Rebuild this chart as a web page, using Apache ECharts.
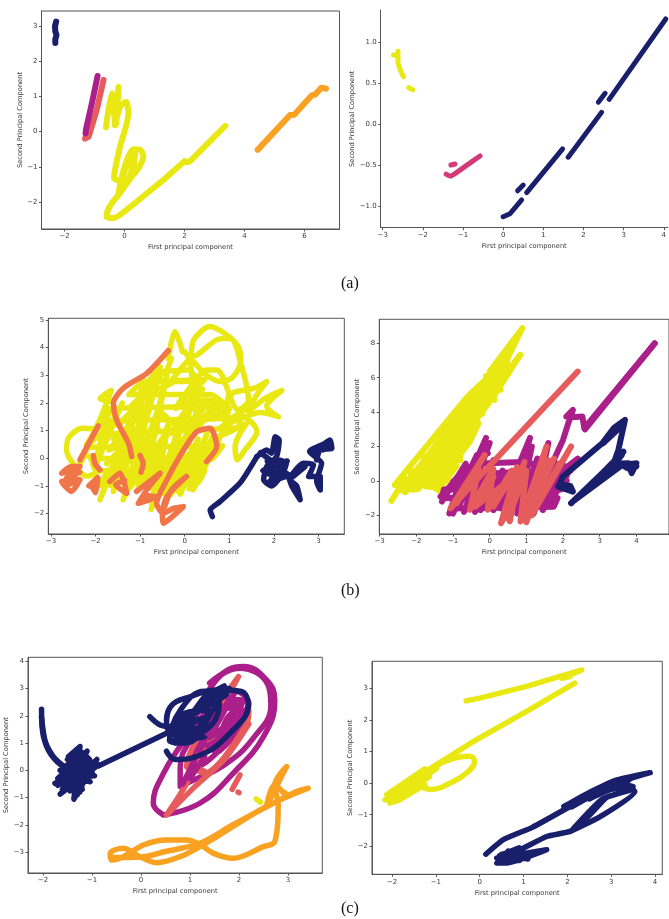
<!DOCTYPE html>
<html><head><meta charset="utf-8">
<style>html,body{margin:0;padding:0;background:#fff}#c{width:669px;height:919px}</style>
<script src="https://cdn.jsdelivr.net/npm/echarts@6/dist/echarts.min.js"></script>
</head><body><div id="c"></div>
<script>
const NAVY='#1a1f6b',MAGENTA='#ab1f8b',SALMON='#e65c5c',CORAL='#f07548',ORANGE='#f9a120',YELLOW='#e9e813',PINK='#d23b78';

// Panel (a) left
const a1Navy=[[[-2.28,3.13],[-2.32,3.0],[-2.31,2.85],[-2.27,2.75],[-2.31,2.62],[-2.31,2.52]]];
const a1Salmon=[[[-0.7,1.47],[-0.93,0.61],[-1.2,-0.15],[-1.32,-0.2],[-1.27,-0.1]]];
const a1Magenta=[[[-0.9,1.58],[-1.09,0.8],[-1.28,0.09],[-1.3,-0.05]]];
const a1YellowTail=[[[3.36,0.16],[2.18,-0.85],[2.07,-0.87],[2.0,-0.84],[1.4,-1.3],[0.74,-1.76]]];
const a1Yellow=[[[0.74,-1.76],[0.13,-2.18],[-0.37,-2.46],[-0.6,-2.42],[-0.57,-2.27],[-0.43,-2.04],[-0.2,-1.8],[0.24,-1.28],[0.46,-1.05],[0.63,-0.71],[0.52,-0.52],[0.29,-0.5],[0.13,-0.7],[-0.09,-1.28],[-0.2,-1.75],[0.02,-1.09],[0.35,-0.62],[0.29,-1.0],[0.02,-1.42],[-0.35,-1.32],[-0.15,-0.43],[0.13,0.52],[0.05,0.85],[-0.15,0.7],[-0.32,0.18],[-0.2,1.27],[-0.3,0.18],[-0.43,1.09],[-0.62,0.12]]];
const a1Orange=[[[4.44,-0.52],[5.52,0.47],[5.66,0.48],[6.24,1.03],[6.35,1.05],[6.57,1.25],[6.72,1.22]]];

// Panel (a) right
const a2Yellow=[[[-2.73,0.845],[-2.65,0.84]],[[-2.62,0.89],[-2.62,0.76],[-2.56,0.66],[-2.48,0.58]],[[-2.35,0.447],[-2.25,0.42]]];
const a2Pink=[[[-0.577,-0.386],[-0.91,-0.5],[-1.2,-0.6],[-1.32,-0.63],[-1.42,-0.606]],[[-1.3,-0.496],[-1.2,-0.484]]];
const a2Navy=[[[0,-1.126],[0.17,-1.09],[0.46,-0.92]],[[0.36,-0.81],[0.5,-0.74]],[[0.585,-0.833],[1.48,-0.3]],[[1.62,-0.4],[2.45,0.146]],[[2.37,0.27],[2.54,0.378]],[[2.64,0.305],[4.05,1.285]]];

// Panel (b) left
const b1Yellow=[[[-1.94,1.05],[-2.3,1.08],[-2.6,0.75],[-2.65,0.3],[-2.5,-0.2],[-2.2,-0.65],[-1.95,-0.45],[-2.2,0.1],[-2.35,-0.2],[-1.85,1.6],[-1.65,2.45],[-1.9,2.15],[-1.6,2.05]],[[-0.05,3.85],[-0.22,4.58],[-0.37,3.6]],[[0.0,3.85],[0.12,3.6],[0.2,4.28],[0.57,4.76],[0.94,4.46],[1.2,4.04],[1.26,3.55],[1.09,2.95],[0.83,2.77],[0.49,3.0],[0.23,3.43],[0.12,3.67],[0.27,3.73],[0.72,4.28],[1.02,4.34],[1.28,3.31],[1.43,2.1],[1.2,1.75],[0.72,3.19],[0.49,3.19],[0.19,2.71],[-0.2,1.8],[0.1,2.45],[0.4,2.5],[-0.05,1.5],[-0.3,0.9],[0.3,2.1],[0.75,2.1],[0.5,1.6],[0.1,1.0],[-0.1,0.4],[0.55,1.9],[0.9,1.6],[1.0,2.3],[1.6,2.55],[1.84,2.77],[1.58,2.2],[1.43,1.7],[1.84,2.2],[2.18,2.45],[1.84,1.87],[2.1,1.5],[1.7,1.65],[1.2,1.4],[0.8,1.1],[1.3,1.5],[1.62,0.96],[1.35,0.3],[1.18,-0.06],[1.13,0.42],[1.39,1.27],[0.94,0.9],[0.6,0.7]]];
const b1YellowFill=[[[-1.9,-1.5],[-1.2,1.5],[-1.85,-1.3],[-1.0,2.3],[-1.7,-0.8],[-0.9,2.8],[-1.6,-1.2],[-0.8,1.7],[-1.5,-0.6],[-0.6,2.9],[-1.38,-1.5],[-0.7,1.2],[-1.2,-0.9],[-0.5,2.2],[-1.05,-1.1],[-0.4,3.0],[-0.9,-0.9],[-0.35,1.3],[-0.75,-1.85],[-0.2,0.8],[-0.6,-1.1],[-0.05,1.4],[-0.45,-1.3],[0.1,1.0],[-0.3,-1.3],[0.3,0.7],[-0.1,-1.3],[0.5,0.9],[0.1,-1.1],[0.65,0.85],[0.19,-1.14],[0.9,1.1]],[[-2.2,0.5],[-1.7,1.8],[-1.95,0.2],[-1.55,1.6],[-2.0,-0.3],[-1.4,2.0]],[[-0.2,0.8],[0.2,2.3],[0,1.0],[0.5,2.1],[-0.1,2.0],[0.45,2.85],[-0.3,2.8],[0.1,3.6],[0.3,1.1],[0.75,2.1],[0.5,1.4],[1.0,1.8],[0.9,1.3],[1.5,1.9]],[[-1.2,1.5],[-0.8,2.8],[-0.55,3.3],[-0.9,2.6],[-0.4,3.2],[-0.3,3.6]],[[-1.95,-1.0],[-1.0,-0.8],[-0.5,-0.75],[0.3,-0.9],[0.45,-0.45],[-2.0,-0.45],[-2.1,0.0],[0.6,-0.05],[0.85,0.45],[-2.2,0.4],[-1.9,0.85],[1.2,1.1],[1.25,1.45],[-1.8,1.35],[-1.6,1.8],[0.95,1.9],[0.6,2.3],[-1.25,2.3],[-0.95,2.75],[0.3,2.8],[0.1,3.2],[-0.7,3.1]]];
const b1YellowFill2=[[[-1.9,-0.9],[-1.2,0.6],[-1.7,0.3],[-0.9,1.9],[-1.5,1.2],[-0.7,2.5],[-1.2,1.9],[-0.55,2.9],[-0.9,2.3],[-0.3,2.7]],[[-1.75,-0.2],[-1.1,0.9],[-1.3,-0.2],[-0.6,1.1],[-1.0,-0.3],[-0.4,0.9],[-0.7,-0.6],[-0.1,0.6],[-0.35,-0.7],[0.2,0.35],[0,-0.9],[0.45,0.1],[0.3,-0.6],[0.7,0.6]],[[-1.6,0.7],[-1.25,1.1],[-1.55,-0.15],[-1.2,0.2],[-0.9,1.1],[-1.05,0.1],[-0.75,0.5],[-0.55,1.7],[-0.15,1.1]],[[-1.8,-0.65],[-1.55,-0.3],[-1.65,-1.0],[-1.3,-0.35],[-1.25,-1.1],[-0.85,-0.3],[-0.7,-1.2],[-0.4,-0.3],[-0.15,-1.2],[0.15,-0.3]]];
const b1Navy=[[[0.62,-2.11],[0.57,-1.87],[0.79,-1.57],[1.24,-0.9],[1.62,0.06]],[[1.62,0.06],[1.84,0.3],[1.95,0.18],[2.03,0.78],[2.12,0.66],[2.06,0.06],[1.84,-0.3],[1.77,-0.78],[1.95,-1.0],[2.2,-0.54],[2.28,-0.18],[2.1,-0.06],[1.92,-0.54],[2.07,-0.78],[2.28,-0.54],[2.4,-1.0],[2.59,-1.5],[2.51,-1.0],[2.36,-0.78],[2.66,-0.18],[2.89,-0.24],[2.78,-0.66],[3.04,-0.66],[3.04,-1.15],[2.96,-0.84],[3.07,-0.18],[2.8,0.24],[3.15,0.54],[3.26,0.66],[3.3,0.36],[3.04,0.3],[2.96,-0.06]],[[1.7,0.2],[2.2,-0.4],[1.85,-0.1],[2.1,-0.7],[1.75,-0.45],[2.3,-0.1],[1.9,-0.85],[2.45,-0.55],[2.7,-0.3],[2.4,-0.7]],[[2.9,0.2],[3.2,0.6],[3.1,0.3],[3.25,0.5]]];
const b1Coral=[[[-0.37,3.89],[-0.85,3.07],[-1.38,2.53],[-1.6,1.99],[-1.53,1.39],[-1.26,0.54],[-1.19,0.06]],[[0.49,-0.12],[0.72,0.42],[0.57,1.08],[0.27,0.96],[-0.07,0.18],[-0.4,-0.78],[-0.63,-1.63],[-0.48,-1.99],[-0.25,-1.81],[-0.03,-1.75],[-0.48,-2.35],[-0.5,-1.99],[-0.4,-1.39],[0.04,-0.66],[-0.3,-1.15],[-0.45,-1.75]],[[-1.94,1.17],[-2.35,-0.06]],[[-2.35,-0.3],[-2.54,-0.3],[-2.76,-0.54],[-2.54,-0.45],[-2.35,-0.5],[-2.65,-0.7],[-2.35,-0.78],[-2.76,-0.84],[-2.54,-1.2],[-2.35,-0.78],[-2.6,-0.95]],[[-2.05,0.1],[-2.01,-0.2],[-1.9,-0.42]],[[-2.15,-1.0],[-1.95,-0.7],[-2.0,-1.25],[-2.1,-0.95]],[[-1.68,-0.84],[-1.45,-0.54],[-1.3,-1.27],[-1.55,-0.95],[-1.35,-0.8]],[[-1.08,-1.2],[-0.55,-0.54],[-0.85,-1.14],[-1.04,-1.63],[-0.63,-1.39],[-0.9,-1.35]],[[-0.98,-0.5],[-0.93,-0.2],[-1.0,0.1]]];

// Panel (b) right
const b2Yellow=[[[-2.68,-1.16],[-2.3,0.14],[-2.59,-0.23],[-0.6,4.91],[-0.1,5.92],[-2.4,-0.54],[-2.3,-0.66],[0.25,6.5],[0.45,6.66],[-2.1,-0.5],[-1.95,-0.48],[0.82,7.3],[0.1,4.88],[-1.75,-0.32],[-1.62,-0.35],[-0.3,3.36],[-0.55,2.25],[-1.5,-0.4],[-1.4,-0.53],[-0.9,0.87]],[[0,6.38],[0.89,8.88],[0.5,7.2],[0.1,6.2],[0.2,5.6],[0.55,7.8],[0.4,6.1],[0.84,7.33]],[[-1.0,0.9],[-0.8,1.4]],[[-2.1,0.4],[-1.6,1.6],[-1.2,3.0],[-0.7,3.4]],[[-2.15,-0.5],[-2.15,0.64],[-1.34,-0.62],[-1.85,1.5],[-1.03,0.64],[-1.48,2.58],[-0.72,2.0],[-1.0,3.8],[-0.63,3.35],[-0.5,5.1],[0.13,4.71],[-0.1,6.1],[0.5,6.2]],[[-1.7,0.5],[-1.1,0.0],[-1.6,1.7],[-0.8,1.2],[-1.3,2.9],[-0.66,2.6],[-0.8,4.1],[-0.2,3.9],[-0.3,5.5],[0.3,5.3]]];
const b2Magenta=[[[4.5,8.0],[2.58,3.06],[2.53,3.74],[2.25,3.7],[2.09,3.74],[2.27,4.13],[2.15,3.4],[2.0,2.38],[1.7,1.0]],[[2.6,3.0],[4.5,8.0]],[[-1.3,-1.2],[-0.65,1.0],[-1.1,-1.9],[-0.35,1.5],[-1.0,-1.9],[-0.1,2.5],[-0.85,-1.5],[0.0,2.2],[-0.7,-1.8],[0.1,1.2],[-0.4,-1.8],[0.35,0.6],[-0.25,-1.7],[0.55,0.5],[0.1,-1.7],[0.9,1.2],[0.3,-1.6],[1.1,2.5],[0.55,-1.5],[1.15,2.0],[0.75,-1.9],[1.3,1.3],[0.95,-1.6],[1.6,2.2],[1.2,-1.9],[1.7,1.0],[1.45,-1.7],[2.0,0.8],[1.6,-1.4],[2.1,0.3],[1.8,-0.6],[2.4,1.3],[1.75,0.2]],[[-1.34,-0.91],[-0.6,0.8],[-1.2,-0.6]],[[-1.05,-1.6],[1.75,-1.5],[1.85,-1.0],[-1.3,-1.0],[-1.25,-0.5],[1.95,-0.5],[2.1,0.0],[-1.0,-0.05],[-0.75,0.5],[0.3,0.45],[0.6,0.5],[2.2,0.6],[1.95,1.0],[1.1,1.0],[0.9,1.1],[-0.45,1.0],[-0.3,1.5],[-0.05,1.6]]];
const b2Salmon=[[[2.4,6.36],[0.4,1.8],[-0.3,0.2],[-1.07,-1.6],[-0.14,1.5],[-0.9,-1.3],[-0.3,0.7],[-0.54,-1.68],[0.1,0.7],[-0.05,-1.68],[0.6,0.6],[0.1,-1.5],[0.75,0.8],[0.31,-2.46],[0.95,1.1],[0.5,-2.2],[1.0,0.6],[0.84,-2.36],[1.55,2.0],[1.0,-2.4],[1.6,1.2],[1.25,-1.5],[2.22,2.0],[1.15,-2.0],[1.9,1.0]],[[0.0,-1.5],[0.7,0.3],[-0.4,-1.5],[0.1,0.2]],[[0.9,-2.2],[1.45,0.9],[1.1,-1.8],[1.75,1.3]],[[0.35,-2.3],[0.8,0.4],[0.55,-2.35]]];
const b2Navy=[[[1.87,-0.33],[2.27,-0.62],[2.2,-0.3],[1.9,-0.2],[2.0,0.25],[3.07,2.19],[3.38,3.06],[3.69,3.55],[3.51,1.8],[3.38,1.03],[2.22,-1.3],[3.07,0.45],[3.65,1.7],[3.4,1.0],[3.78,1.03],[3.87,0.45],[4.0,1.03],[3.6,0.9],[2.3,-1.15],[3.3,0.7],[3.6,1.5]],[[3.1,2.2],[3.5,3.0],[3.2,2.5],[3.55,3.3]],[[3.7,0.8],[3.9,0.6],[3.85,1.0],[4.0,0.85]]];

// Panel (c) left
const c1Magenta=[[[0.46,-1.64],[0.25,-1.21],[0.46,-0.11],[0.94,1.3],[1.54,3.32],[2.09,3.81],[2.56,3.32],[2.73,2.58],[2.5,1.24],[1.88,-0.11],[1.2,-1.21],[0.46,-1.64]],[[1.4,3.2],[2.0,3.75],[2.6,3.1],[2.65,2.4],[2.3,1.2],[1.7,0.2],[0.9,-0.5],[0.8,-0.6],[0.8,0.1],[1.1,1.4],[1.5,2.6],[1.9,2.9],[2.2,2.4],[1.9,1.4],[1.4,0.4],[1.0,0.0],[1.2,1.0],[1.6,2.2],[1.9,2.3],[1.7,1.4],[1.3,0.9],[1.7,2.6],[2.1,2.0],[1.6,0.7]]];
const c1Salmon=[[[0.52,-1.64],[0.93,-0.48],[1.88,3.07],[1.99,3.44],[1.55,2.3],[0.93,0.13],[1.1,0.05],[1.27,-0.11],[2.16,1.72],[2.2,2.2],[1.6,1.3],[1.1,0.3],[1.3,-0.05]],[[0.55,-1.6],[1.1,-0.6],[1.7,0.4],[2.2,1.7]],[[2.02,-0.17],[1.86,-0.7]],[[1.98,-0.8],[2.0,-0.82]]];
const c1MagentaFill=[[[1.5,1.0],[2.1,2.6],[1.7,1.0],[2.15,2.2],[1.4,1.2],[1.9,2.8],[1.3,1.4],[1.7,2.8],[1.95,1.6],[1.35,0.9]],[[0.85,-0.5],[1.1,0.4],[1.0,-0.3],[1.3,0.5]],[[1.2,0.7],[1.5,1.8],[1.95,2.6],[2.2,2.5],[1.8,1.2],[1.5,0.7],[1.75,1.9],[2.05,2.4],[1.6,1.1]]];
const c1Yellow=[[[2.35,-1.05],[2.44,-1.17]]];
const c1Orange=[[[2.97,0.13],[2.73,-0.54],[2.8,-1.3],[2.73,-2.62],[2.5,-2.8],[1.88,-3.23],[1.48,-3.05],[1.2,-2.72],[0.93,-2.56],[0.52,-2.56],[0.05,-2.74],[-0.36,-3.17],[-0.6,-3.29],[-0.63,-3.05],[-0.36,-2.86],[-0.09,-3.11],[0.32,-3.39],[0.8,-3.17],[1.2,-2.8],[1.54,-2.44],[2.56,-1.33],[3.41,-0.66],[3.1,-0.84],[1.88,-2.0],[1.2,-2.68],[0.5,-2.98],[0,-3.18],[-0.6,-3.2]],[[2.97,-0.97],[2.73,-0.54],[2.56,-1.33],[2.9,-0.11],[2.97,0.13],[2.75,-0.5],[3.0,-0.9]]];
const c1NavyTail=[[[-2.03,2.24],[-1.99,1.24],[-1.79,0.5],[-1.52,0.07]],[[-2.03,1.95],[-1.93,0.9],[-1.7,0.3],[-1.4,0.0]],[[-0.87,0.16],[0.66,1.48]],[[0.18,1.97],[0.39,1.66],[0.66,1.58]]];
const c1NavyBlob=[[[-1.755,-0.48],[-0.87,0.2],[-1.65,-0.87],[-0.9,0.4],[-1.37,-1.06],[-1.245,0.87],[-1.48,0.5],[-1.04,-0.42],[-1.5,0.4],[-0.95,-0.2],[-1.7,-0.3],[-1.1,0.7],[-1.6,-0.7],[-1.15,0.6],[-1.3,-0.9],[-1.35,0.7],[-1.2,-0.7],[-1.5,0.2],[-1.05,-0.4],[-1.65,0.0],[-0.95,0.3],[-1.7,-0.55],[-1.0,0.1],[-1.55,-0.3],[-1.3,0.3],[-1.25,-0.4],[-1.6,-0.1],[-1.1,-0.1],[-1.45,-0.75],[-1.15,0.2],[-1.45,-0.3],[-1.3,0.1]],[[-1.6,-0.7],[-1.0,-0.1],[-1.0,0.3],[-1.6,-0.2],[-1.45,0.3],[-1.05,0.4],[-1.2,0.65],[-1.35,0.5],[-1.25,-0.8],[-1.5,-0.7],[-1.65,-0.4],[-1.1,-0.4],[-1.05,0.0],[-1.5,0.0],[-1.4,-0.5],[-1.2,-0.2]]];
const c1NavyLoops=[[[0.52,0.7],[0.7,0.4],[1.2,0.55],[1.88,1.48],[2.19,2.4],[2.03,2.9],[1.62,2.95],[1.0,2.7],[0.59,2.3],[0.52,1.7],[0.8,1.25],[1.4,1.6],[1.6,2.6],[1.3,2.9],[0.8,2.2],[0.58,1.1],[0.9,1.0],[1.5,2.3],[1.7,3.0],[1.35,2.6],[0.75,1.6],[0.9,2.1],[1.4,2.2],[0.9,1.2],[0.62,1.6]]];
const c1NavyFill=[[[0.6,1.3],[1.1,1.8],[0.7,1.0],[1.2,1.5],[0.6,1.6],[1.0,2.0],[1.3,2.7],[1.7,3.1],[1.4,2.4],[1.75,2.8],[1.45,2.9],[1.8,3.0]],[[0.6,1.1],[1.3,1.2],[0.7,1.5],[1.3,1.9],[0.85,1.8],[1.45,2.5]]];

// Panel (c) right
const c2Yellow=[[[-0.31,2.6],[0,2.69],[1.07,3.06],[2.33,3.58],[1.87,3.32],[2.06,3.37]],[[2.17,3.16],[1.07,2.27],[-0.14,1.32],[-1.29,0.32]]];
const c2YellowLoop=[[[-1.15,0.42],[-0.85,0.65],[-0.5,0.82],[-0.22,0.85],[-0.12,0.68],[-0.3,0.32],[-0.65,0.02],[-1.1,-0.2],[-1.36,-0.1]]];
const c2YellowFill=[[[-1.29,0.32],[-2.12,-0.37],[-1.25,0.45],[-2.05,-0.63],[-0.98,0.47],[-2.16,-0.53],[-1.3,0.15],[-1.95,-0.6],[-1.15,0.3],[-1.8,-0.4],[-1.15,0.2],[-2.05,-0.3],[-1.3,0.4],[-1.9,-0.2],[-1.4,-0.0],[-1.75,-0.35],[-1.1,0.35],[-1.85,-0.55],[-1.25,-0.05],[-1.6,-0.05],[-1.2,0.38]]];
const c2Navy=[[[0.14,-2.25],[0.54,-1.79],[1.2,-1.4],[2.06,-0.74]],[[1.92,-0.74],[2.44,-0.34],[3.13,0.1],[3.89,0.33],[3.3,0.05],[3.54,-0.27],[2.75,-1.06],[2.06,-1.53],[1.53,-1.69],[0.92,-2.11],[0.39,-2.37],[1.53,-2.11],[0.62,-2.53],[0.39,-2.53],[1.0,-2.3],[0.5,-2.45],[1.2,-2.2],[0.45,-2.3],[0.9,-2.05]],[[2.1,-1.5],[2.5,-0.9],[2.8,-0.5],[3.5,-0.2],[2.9,-0.45],[2.55,-0.95],[2.3,-1.3]],[[2.1,-0.75],[2.55,-0.4],[3.1,-0.05],[3.5,-0.1],[3.0,-0.2],[2.5,-0.5],[2.95,0.0],[3.4,0.1]],[[0.45,-2.4],[0.9,-2.45],[0.5,-2.25],[1.1,-2.4],[0.65,-2.15]]];

// Ticks
const a1XTicks=[-2,0,2,4,6],a1YTicks=[-2,-1,0,1,2,3];
const a2XTicks=[-3,-2,-1,0,1,2,3,4],a2YTicks=[-1,-0.5,0,0.5,1];
const b1XTicks=[-3,-2,-1,0,1,2,3],b1YTicks=[-2,-1,0,1,2,3,4,5];
const b2XTicks=[-3,-2,-1,0,1,2,3,4],b2YTicks=[-2,0,2,4,6,8];
const c1XTicks=[-2,-1,0,1,2,3],c1YTicks=[-3,-2,-1,0,1,2,3,4];
const c2XTicks=[-2,-1,0,1,2,3,4],c2YTicks=[-2,-1,0,1,2,3];
const xName='First principal component',yName='Second Principal Component';
const captions=['(a)','(b)','(c)'];
const clippedTitles=['Device 5 user 6 PCA','Device 6 user 7 PCA'];

const panels=[
 {box:[41.5,11,298,218],xr:[-2.77,7.17],yr:[-2.77,3.43],xt:a1XTicks,yt:a1YTicks,border:1,w:6,yg:18,paths:[[a1YellowTail,YELLOW,0],[a1Yellow,YELLOW,0.25],[a1Navy,NAVY,0],[a1Salmon,SALMON,0],[a1Magenta,MAGENTA,0],[a1Orange,ORANGE,0]]},
 {box:[380.7,10,288,217.7],xr:[-3.05,4.1],yr:[-1.26,1.394],xt:a2XTicks,yt:a2YTicks,border:0,w:5,yg:22,fix:1,paths:[[a2Yellow,YELLOW,0.2],[a2Pink,PINK,0.2],[a2Navy,NAVY,0]]},
 {box:[48.3,318.3,296,215.7],xr:[-3.06,3.58],yr:[-2.74,5.06],xt:b1XTicks,yt:b1YTicks,border:1,w:5.5,yg:19,paths:[[b1YellowFill,YELLOW,0.1],[b1YellowFill2,YELLOW,0],[b1Yellow,YELLOW,0.3],[b1Coral,CORAL,0.25],[b1Navy,NAVY,0.2]]},
 {box:[379.3,319.3,295,214.7],xr:[-3.01,4.89],yr:[-3.09,9.4],xt:b2XTicks,yt:b2YTicks,border:1,w:6,yg:17,paths:[[b2Yellow,YELLOW,0],[b2Magenta,MAGENTA,0],[b2Salmon,SALMON,0],[b2Navy,NAVY,0]]},
 {box:[28,657.3,294.3,215.7],xr:[-2.306,3.7],yr:[-3.77,4.148],xt:c1XTicks,yt:c1YTicks,border:1,w:5.5,yg:14,paths:[[c1Magenta,MAGENTA,0.45],[c1Salmon,SALMON,0.3],[c1MagentaFill,MAGENTA,0.2],[c1Yellow,YELLOW,0],[c1Orange,ORANGE,0.35],[c1NavyBlob,NAVY,0],[c1NavyTail,NAVY,0.3],[c1NavyLoops,NAVY,0.45],[c1NavyFill,NAVY,0.2]]},
 {box:[372,661.3,290.3,213],xr:[-2.457,4.166],yr:[-2.886,3.854],xt:c2XTicks,yt:c2YTicks,border:1,w:5.5,yg:17,paths:[[c2Yellow,YELLOW,0],[c2YellowLoop,YELLOW,0.45],[c2YellowFill,YELLOW,0],[c2Navy,NAVY,0.15]]}
];
const GRAY='#555',TXT='#3a3a3a',SANS='DejaVu Sans';
const fmt=(v,fix)=>(fix?v.toFixed(1):String(v)).replace('-','\u2212');
const grid=[],xAxis=[],yAxis=[],series=[];
panels.forEach((p,i)=>{
 grid.push({left:p.box[0],top:p.box[1],width:p.box[2],height:p.box[3],show:!!p.border,borderColor:GRAY,borderWidth:p.border,backgroundColor:'transparent',containLabel:false});
 const ax=(r,t,name,gap,fix,rot)=>({type:'value',gridIndex:i,min:r[0],max:r[1],name,nameLocation:'middle',nameGap:gap,nameRotate:rot,
  nameTextStyle:{fontFamily:SANS,fontSize:6.7,color:TXT},splitLine:{show:false},
  axisLine:{show:true,onZero:false,lineStyle:{color:GRAY,width:1}},
  axisTick:{show:true,length:2.5,customValues:t,lineStyle:{color:GRAY,width:1}},
  axisLabel:{customValues:t,fontFamily:SANS,fontSize:7,color:TXT,margin:4,hideOverlap:false,showMinLabel:true,showMaxLabel:true,formatter:v=>fmt(v,fix)}});
 xAxis.push(ax(p.xr,p.xt,xName,15,false,0));
 yAxis.push(ax(p.yr,p.yt,yName,p.yg,p.fix,90));
 p.paths.forEach(([segs,color,smooth])=>segs.forEach(seg=>series.push({type:'line',xAxisIndex:i,yAxisIndex:i,data:seg,showSymbol:false,smooth,clip:true,silent:true,animation:false,
  lineStyle:{color,width:p.w,cap:'round',join:'round'}})));
});
const text=(t,x,y,font,fill)=>({type:'text',left:x,top:y,z:20,silent:true,style:{text:t,font,fill,textAlign:'center'}});
const graphic=[
 text(clippedTitles[0],197,305,'9px "DejaVu Sans"','#555'),
 text(clippedTitles[1],526,305,'9px "DejaVu Sans"','#555'),
 {type:'rect',left:100,top:296,z:21,silent:true,shape:{width:540,height:16},style:{fill:'#fff'}},
 text(captions[0],341,276,'16px "Liberation Serif"','#111'),
 text(captions[1],341,583,'16px "Liberation Serif"','#111'),
 text(captions[2],341,901,'16px "Liberation Serif"','#111')
];
const chart=echarts.init(document.getElementById('c'),null,{renderer:'canvas'});
chart.setOption({animation:false,backgroundColor:'#fff',tooltip:{show:false},legend:{show:false},grid,xAxis,yAxis,series,graphic});
</script></body></html>
